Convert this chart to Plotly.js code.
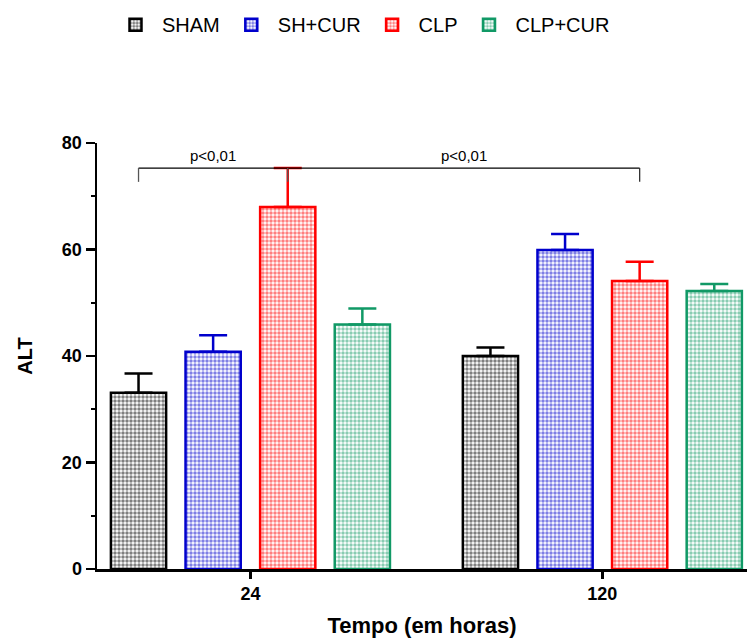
<!DOCTYPE html>
<html><head><meta charset="utf-8">
<script src="https://cdn.plot.ly/plotly-3.0.1.min.js"></script>
<style>body{margin:0;padding:0;background:#fff}#chart{width:749px;height:642px}</style>
</head><body><div id="chart"></div>
<script>
const categories = ['24', '120'];
const groups = ['SHAM', 'SH+CUR', 'CLP', 'CLP+CUR'];
const colors = ['#000000', '#0000cc', '#ff0000', '#119966'];
const sham = [33.1, 40.0];
const shamErr = [3.6, 1.6];
const shcur = [40.8, 59.9];
const shcurErr = [3.1, 3.0];
const clp = [68.0, 54.1];
const clpErr = [7.3, 3.6];
const clpcur = [45.9, 52.2];
const clpcurErr = [3.0, 1.3];
const pLabels = ['p<0,01', 'p<0,01'];

const values = [sham, shcur, clp, clpcur];
const errs = [shamErr, shcurErr, clpErr, clpcurErr];
const bargap = 0.152, bargroupgap = 0.26;

const traces = groups.map((g, i) => ({
  type: 'bar', name: g, x: [0, 1], y: values[i],
  marker: {color: '#ffffff', line: {color: colors[i], width: 2.5},
    pattern: {shape: '.', fgcolor: colors[i], bgcolor: '#ffffff', size: 4, solidity: 0.6, fillmode: 'overlay'}},
  error_y: {type: 'data', symmetric: false, array: errs[i], arrayminus: [0, 0], color: colors[i], thickness: 2.5, width: 14},
  hoverinfo: 'none'
}));

// bar centre within group (data units), derived from bargap settings
const groupW = 1 - bargap, slot = groupW / groups.length;
const centre = (cat, i) => cat - groupW / 2 + slot * (i + 0.5);
const yBr = clp[0] + clpErr[0];
const drop = 2.6;
const b1 = [centre(0, 0), centre(0, 2)];
const b2 = [centre(0, 2), centre(1, 2)];
const ln = {color: '#000', width: 1.3};
const shapes = [
  {type: 'line', xref: 'x', yref: 'y', x0: b1[0], x1: b2[1], y0: yBr, y1: yBr, line: ln},
  {type: 'line', xref: 'x', yref: 'y', x0: b1[0], x1: b1[0], y0: yBr, y1: yBr - drop, line: {color: '#555', width: 1.3}},
  {type: 'line', xref: 'x', yref: 'y', x0: b1[1], x1: b1[1], y0: yBr, y1: yBr - drop, line: {color: '#555', width: 1.3}},
  {type: 'line', xref: 'x', yref: 'y', x0: b2[1], x1: b2[1], y0: yBr, y1: yBr - drop, line: {color: '#333', width: 1.3}}
];
const annotations = [
  {xref: 'x', yref: 'y', x: (b1[0] + b1[1]) / 2, y: yBr, text: pLabels[0], showarrow: false, yanchor: 'bottom', yshift: 2,
   font: {family: 'Liberation Sans, Arial, sans-serif', size: 15, color: '#000'}},
  {xref: 'x', yref: 'y', x: (b2[0] + b2[1]) / 2, y: yBr, text: pLabels[1], showarrow: false, yanchor: 'bottom', yshift: 2,
   font: {family: 'Liberation Sans, Arial, sans-serif', size: 15, color: '#000'}}
];

const layout = {
  width: 749, height: 642,
  margin: {l: 97, r: 2, t: 143, b: 73},
  paper_bgcolor: '#fff', plot_bgcolor: '#fff',
  barmode: 'group', bargap: bargap, bargroupgap: bargroupgap,
  font: {family: 'Liberation Sans, Arial, sans-serif', color: '#000'},
  showlegend: true,
  legend: {orientation: 'h', x: 109 / 749, xanchor: 'left', xref: 'container', y: 0.992, yref: 'container', yanchor: 'top',
    font: {size: 20, color: '#000'}, itemwidth: 43, tracegroupgap: 0},
  xaxis: {range: [-0.436, 1.411], tickmode: 'array', tickvals: [0, 1], ticktext: categories,
    showline: true, linecolor: '#000', linewidth: 2.5, ticks: 'outside', ticklen: 7, tickwidth: 2.5, tickcolor: '#000',
    showgrid: false, zeroline: false, fixedrange: true,
    tickfont: {size: 18, weight: 'bold', color: '#000'},
    title: {text: 'Tempo (em horas)', font: {size: 22, weight: 'bold', color: '#000'}, standoff: 15}},
  yaxis: {range: [0, 80], tickvals: [0, 20, 40, 60, 80], showline: true, linecolor: '#000', linewidth: 2.5,
    ticks: 'outside', ticklen: 9, tickwidth: 2.5, tickcolor: '#000',
    minor: {dtick: 10, ticks: 'outside', ticklen: 4, tickwidth: 2, tickcolor: '#000', showgrid: false},
    showgrid: false, zeroline: false, fixedrange: true,
    tickfont: {size: 18, weight: 'bold', color: '#000'},
    title: {text: 'ALT', font: {size: 20, weight: 'bold', color: '#000'}, standoff: 24}},
  shapes: shapes, annotations: annotations
};
Plotly.newPlot('chart', traces, layout, {displayModeBar: false, staticPlot: true});
</script></body></html>
